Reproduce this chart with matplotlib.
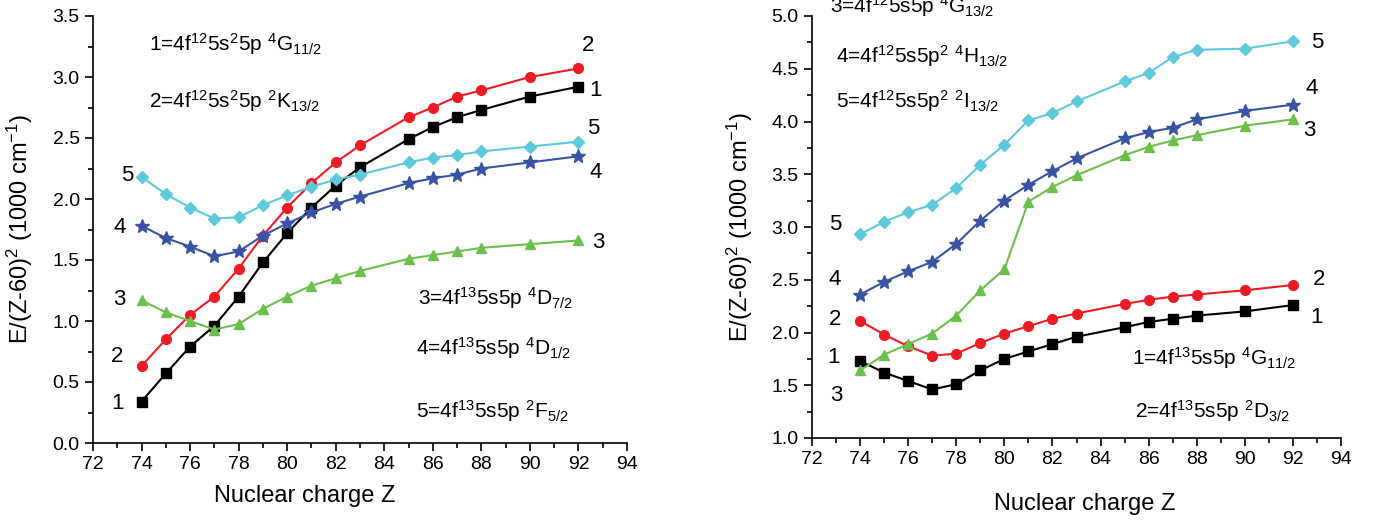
import matplotlib
matplotlib.use("Agg")
import matplotlib.pyplot as plt
from matplotlib.ticker import MultipleLocator, FormatStrFormatter

plt.rcParams['font.family'] = ['Liberation Sans', 'DejaVu Sans']
plt.rcParams['mathtext.fontset'] = 'custom'
plt.rcParams['mathtext.rm'] = 'Liberation Sans'
plt.rcParams['mathtext.it'] = 'Liberation Sans'
plt.rcParams['mathtext.default'] = 'regular'

Z = [74, 75, 76, 77, 78, 79, 80, 81, 82, 83, 85, 86, 87, 88, 90, 92]

# Left panel
L1 = [0.34, 0.57, 0.79, 0.96, 1.20, 1.48, 1.72, 1.93, 2.11, 2.26, 2.49, 2.59, 2.67, 2.73, 2.84, 2.92]
L2 = [0.63, 0.85, 1.05, 1.20, 1.43, 1.70, 1.93, 2.13, 2.30, 2.44, 2.67, 2.75, 2.84, 2.89, 3.00, 3.07]
L3 = [1.17, 1.07, 1.00, 0.93, 0.975, 1.10, 1.20, 1.29, 1.35, 1.41, 1.51, 1.54, 1.57, 1.60, 1.63, 1.66]
L4 = [1.78, 1.68, 1.61, 1.53, 1.57, 1.70, 1.80, 1.89, 1.96, 2.02, 2.13, 2.17, 2.20, 2.25, 2.30, 2.35]
L5 = [2.18, 2.04, 1.93, 1.84, 1.85, 1.95, 2.03, 2.10, 2.16, 2.20, 2.30, 2.34, 2.36, 2.39, 2.43, 2.47]

# Right panel
R1 = [1.73, 1.62, 1.54, 1.46, 1.51, 1.64, 1.75, 1.82, 1.89, 1.96, 2.05, 2.10, 2.13, 2.16, 2.20, 2.26]
R2 = [2.11, 1.98, 1.87, 1.78, 1.80, 1.90, 1.99, 2.06, 2.13, 2.18, 2.27, 2.31, 2.34, 2.36, 2.40, 2.45]
R3 = [1.64, 1.79, 1.89, 1.99, 2.16, 2.40, 2.60, 3.24, 3.38, 3.49, 3.68, 3.76, 3.82, 3.87, 3.96, 4.02]
R4 = [2.36, 2.48, 2.58, 2.67, 2.84, 3.06, 3.25, 3.40, 3.53, 3.65, 3.84, 3.90, 3.94, 4.02, 4.10, 4.16]
R5 = [2.93, 3.05, 3.14, 3.21, 3.37, 3.59, 3.78, 4.01, 4.08, 4.19, 4.38, 4.46, 4.61, 4.68, 4.69, 4.76]

styles = [
    dict(color='black', marker='s', ms=6.5),
    dict(color='#ed1c24', marker='o', ms=7),
    dict(color='#6cbf4a', marker='^', ms=7.5),
    dict(color='#3953a4', marker='*', ms=10),
    dict(color='#5ec9db', marker='D', ms=6),
]

W, H = 1373, 520
fig = plt.figure(figsize=(W / 100, H / 100), dpi=100)

def px_axes(x0, x1, ytop, ybot):
    return fig.add_axes([x0 / W, 1 - ybot / H, (x1 - x0) / W, (ybot - ytop) / H])

axL = px_axes(93, 627, 16, 443)
axR = px_axes(812, 1341, 16, 438)

for ax, series in ((axL, [L1, L2, L3, L4, L5]), (axR, [R1, R2, R3, R4, R5])):
    for s, st in zip(series, styles):
        ax.plot(Z, s, color=st['color'], marker=st['marker'], ms=st['ms'],
                lw=1.5, mec=st['color'], clip_on=False)
    ax.set_xlim(72, 94)
    ax.xaxis.set_major_locator(MultipleLocator(2))
    ax.xaxis.set_minor_locator(MultipleLocator(1))
    ax.yaxis.set_major_locator(MultipleLocator(0.5))
    ax.yaxis.set_minor_locator(MultipleLocator(0.25))
    ax.yaxis.set_major_formatter(FormatStrFormatter('%.1f'))
    ax.spines['top'].set_visible(False)
    ax.spines['right'].set_visible(False)
    for sp in ('left', 'bottom'):
        ax.spines[sp].set_linewidth(1.2)
    ax.tick_params(which='major', direction='out', length=6, width=1.2, labelsize=14)
    ax.tick_params(which='minor', direction='out', length=3.5, width=1.2)
    ax.set_ylabel(r'E/(Z-60)$^{2}$ (1000 cm$^{-1}$)', fontsize=17)
    ax.set_xlabel('Nuclear charge Z', fontsize=17)

axL.set_ylim(0, 3.5)
axR.set_ylim(1.0, 5.0)

axL.xaxis.set_label_coords(0.397, -0.098)
axR.xaxis.set_label_coords(0.515, -0.130)
axL.yaxis.set_label_coords(-0.109, 0.5)
axR.yaxis.set_label_coords(-0.108, 0.5)

# series number labels
lab_kw = dict(fontsize=16, ha='center', va='center')
for (x, y, t) in [(92.4, 3.26, '2'), (92.7, 2.89, '1'), (92.6, 2.58, '5'), (92.7, 2.22, '4'),
                  (92.8, 1.64, '3'), (73.4, 2.19, '5'), (73.1, 1.77, '4'), (73.1, 1.18, '3'),
                  (73.0, 0.71, '2'), (73.0, 0.32, '1')]:
    axL.text(x, y, t, clip_on=False, **lab_kw)
for (x, y, t) in [(93.0, 4.75, '5'), (92.8, 4.31, '4'), (92.7, 3.91, '3'), (93.1, 2.50, '2'),
                  (93.0, 2.14, '1'), (72.96, 3.02, '5'), (72.96, 2.50, '4'), (72.96, 2.12, '2'),
                  (72.9, 1.76, '1'), (73.0, 1.40, '3')]:
    axR.text(x, y, t, clip_on=False, **lab_kw)

# state annotations (pixel positions: left edge, baseline)
ann_kw = dict(fontsize=15, ha='left', va='baseline')
anns = [
    (149, 51, r'1=4f$^{12}$5s$^{2}$5p $^{4}$G$_{11/2}$'),
    (149, 108, r'2=4f$^{12}$5s$^{2}$5p $^{2}$K$_{13/2}$'),
    (418, 305, r'3=4f$^{13}$5s5p $^{4}$D$_{7/2}$'),
    (416, 355, r'4=4f$^{13}$5s5p $^{4}$D$_{1/2}$'),
    (416, 418, r'5=4f$^{13}$5s5p $^{2}$F$_{5/2}$'),
    (830, 13, r'3=4f$^{12}$5s5p $^{4}$G$_{13/2}$'),
    (836, 63, r'4=4f$^{12}$5s5p$^{2}$ $^{4}$H$_{13/2}$'),
    (836, 108, r'5=4f$^{12}$5s5p$^{2}$ $^{2}$I$_{13/2}$'),
    (1132, 365, r'1=4f$^{13}$5s5p $^{4}$G$_{11/2}$'),
    (1135, 418, r'2=4f$^{13}$5s5p $^{2}$D$_{3/2}$'),
]
for (x, y, t) in anns:
    fig.text(x / W, 1 - y / H, t, **ann_kw)

fig.savefig('out.png', dpi=100)
